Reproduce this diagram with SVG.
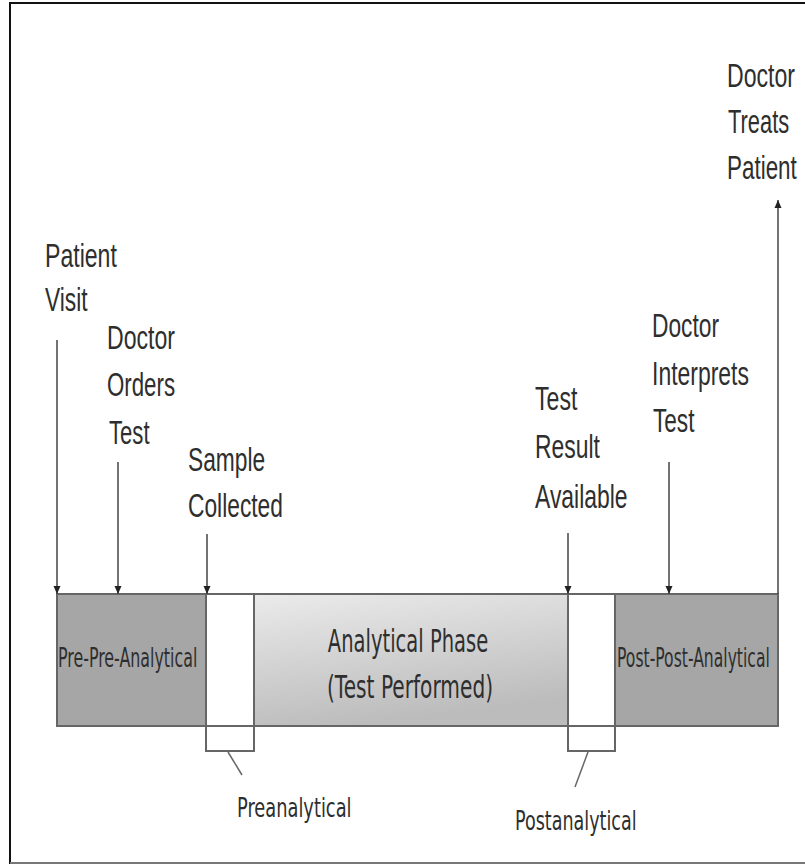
<svg xmlns="http://www.w3.org/2000/svg" width="805" height="866" viewBox="0 0 805 866">
<style>
.lbl{font-family:"Liberation Sans",Arial,sans-serif;font-size:33px;fill:#2e2e2e}
.bar{font-family:"DejaVu Sans",Verdana,sans-serif;fill:#2e2e2e}
.conn{stroke:#444;stroke-width:1.5;fill:none}
.lead{stroke:#666;stroke-width:1.5;fill:none}
</style>
<defs>
<marker id="ah" viewBox="0 0 8 10" refX="8" refY="5" markerWidth="8" markerHeight="10" markerUnits="userSpaceOnUse" orient="auto">
<path d="M0,1.5 L8,5 L0,8.5 z" fill="#222"/>
</marker>
<linearGradient id="ag" x1="0" y1="0" x2="0.3" y2="1">
<stop offset="0" stop-color="#ebebeb"/>
<stop offset="1" stop-color="#bcbcbc"/>
</linearGradient>
</defs>
<rect width="805" height="866" fill="#fff"/>
<g id="frame">
<line x1="10" y1="3" x2="805" y2="3" stroke="#111" stroke-width="2"/>
<line x1="10" y1="2" x2="10" y2="864" stroke="#111" stroke-width="2"/>
<line x1="10" y1="863" x2="805" y2="863" stroke="#777" stroke-width="2"/>
</g>
<g id="pre-pre">
<rect x="57" y="594" width="149" height="132" fill="#a6a6a6" stroke="#666" stroke-width="2"/>
<text class="bar" font-size="26" transform="translate(58,667) scale(0.61,1)">Pre-Pre-Analytical</text>
</g>
<g id="analytical">
<rect x="254" y="594" width="314" height="132" fill="url(#ag)" stroke="#666" stroke-width="2"/>
<text class="bar" font-size="32" text-anchor="middle" transform="translate(408,652) scale(0.61,1)">Analytical Phase</text>
<text class="bar" font-size="32" text-anchor="middle" transform="translate(410,698) scale(0.63,1)">(Test Performed)</text>
</g>
<g id="post-post">
<rect x="615" y="594" width="163" height="132" fill="#a6a6a6" stroke="#666" stroke-width="2"/>
<text class="bar" font-size="26" transform="translate(617,667) scale(0.60,1)">Post-Post-Analytical</text>
</g>
<g id="preanalytical">
<rect x="206" y="594" width="48" height="157" fill="#fff" stroke="#666" stroke-width="2"/>
<line x1="206" y1="726" x2="254" y2="726" stroke="#666" stroke-width="2"/>
<text class="bar" font-size="27" transform="translate(237,817) scale(0.66,1)">Preanalytical</text>
</g>
<g id="postanalytical">
<rect x="568" y="594" width="47" height="157" fill="#fff" stroke="#666" stroke-width="2"/>
<line x1="568" y1="726" x2="615" y2="726" stroke="#666" stroke-width="2"/>
<text class="bar" font-size="27" transform="translate(515,830) scale(0.65,1)">Postanalytical</text>
</g>
<g id="patient-visit">
<text class="lbl" transform="translate(45,267) scale(0.70,1)">Patient</text>
<text class="lbl" transform="translate(45,311) scale(0.69,1)">Visit</text>
</g>
<g id="doctor-orders">
<text class="lbl" transform="translate(107,349) scale(0.70,1)">Doctor</text>
<text class="lbl" transform="translate(107,396) scale(0.675,1)">Orders</text>
<text class="lbl" transform="translate(109,444) scale(0.67,1)">Test</text>
</g>
<g id="sample-collected">
<text class="lbl" transform="translate(188,471) scale(0.69,1)">Sample</text>
<text class="lbl" transform="translate(188,517) scale(0.69,1)">Collected</text>
</g>
<g id="test-result">
<text class="lbl" transform="translate(535,410) scale(0.70,1)">Test</text>
<text class="lbl" transform="translate(535,458) scale(0.695,1)">Result</text>
<text class="lbl" transform="translate(535,508) scale(0.695,1)">Available</text>
</g>
<g id="doctor-interprets">
<text class="lbl" transform="translate(652,337) scale(0.69,1)">Doctor</text>
<text class="lbl" transform="translate(652,385) scale(0.696,1)">Interprets</text>
<text class="lbl" transform="translate(653,432) scale(0.685,1)">Test</text>
</g>
<g id="doctor-treats">
<text class="lbl" transform="translate(727,87) scale(0.70,1)">Doctor</text>
<text class="lbl" transform="translate(728,133) scale(0.663,1)">Treats</text>
<text class="lbl" transform="translate(727,179) scale(0.68,1)">Patient</text>
</g>
<g id="connectors">
<line class="conn" x1="57" y1="340" x2="57" y2="594" marker-end="url(#ah)"/>
<line class="conn" x1="118" y1="462" x2="118" y2="594" marker-end="url(#ah)"/>
<line class="conn" x1="207" y1="534" x2="207" y2="594" marker-end="url(#ah)"/>
<line class="conn" x1="568" y1="533" x2="568" y2="594" marker-end="url(#ah)"/>
<line class="conn" x1="669" y1="462" x2="669" y2="594" marker-end="url(#ah)"/>
<line class="conn" x1="778" y1="594" x2="778" y2="200" marker-end="url(#ah)"/>
<line class="lead" x1="228" y1="752" x2="242" y2="775"/>
<line class="lead" x1="588" y1="752" x2="575" y2="787"/>
</g>
</svg>
